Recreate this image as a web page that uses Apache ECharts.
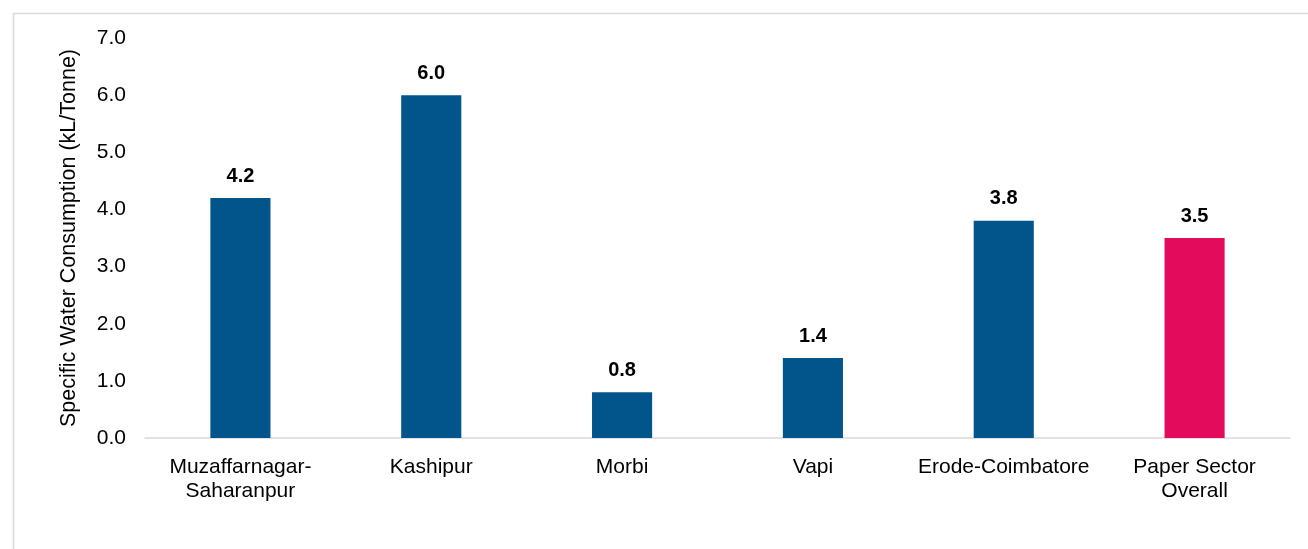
<!DOCTYPE html>
<html>
<head>
<meta charset="utf-8">
<script src="https://cdn.jsdelivr.net/npm/echarts@6/dist/echarts.min.js"></script>
<style>
  html, body { margin: 0; padding: 0; background: #fff; }
  #chart { width: 1308px; height: 549px; }
</style>
</head>
<body>
<div id="chart"></div>
<script>
// Specific water consumption by paper cluster
const categories = ['Muzaffarnagar-\nSaharanpur', 'Kashipur', 'Morbi', 'Vapi', 'Erode-Coimbatore', 'Paper Sector\nOverall'];
const values = [4.2, 6.0, 0.8, 1.4, 3.8, 3.5];
const barColors = ['#02558B', '#02558B', '#02558B', '#02558B', '#02558B', '#E30B5C'];
const yAxisTitle = 'Specific Water Consumption (kL/Tonne)';

const chart = echarts.init(document.getElementById('chart'), null, { renderer: 'canvas' });
const font = 'Liberation Sans, Arial, sans-serif';

chart.setOption({
  animation: false,
  textStyle: { fontFamily: font },
  graphic: [{
    type: 'rect',
    left: 11, top: 11,
    shape: { width: 1320, height: 560 },
    style: { fill: 'none', stroke: '#d9d9d9', lineWidth: 1.5 },
    z: -10
  }],
  grid: { left: 145, right: 18, top: 38, bottom: 111, containLabel: false },
  xAxis: {
    type: 'category',
    data: categories,
    axisLine: { lineStyle: { color: '#d9d9d9', width: 1.5 } },
    axisTick: { show: false },
    axisLabel: { color: '#000', fontSize: 21, lineHeight: 24, margin: 17, interval: 0 }
  },
  yAxis: {
    type: 'value',
    min: 0, max: 7, interval: 1,
    name: yAxisTitle,
    nameLocation: 'middle',
    nameGap: 65,
    nameTextStyle: { color: '#000', fontSize: 21.5 },
    axisLine: { show: false },
    axisTick: { show: false },
    splitLine: { show: false },
    axisLabel: { color: '#000', fontSize: 21, margin: 19, formatter: v => v.toFixed(1) }
  },
  series: [{
    type: 'bar',
    barWidth: '31.5%',
    data: values.map((v, i) => ({ value: v, itemStyle: { color: barColors[i] } })),
    label: {
      show: true,
      position: 'top',
      distance: 12,
      color: '#000',
      fontWeight: 'bold',
      fontSize: 20,
      formatter: p => p.value.toFixed(1)
    }
  }]
});
</script>
</body>
</html>
